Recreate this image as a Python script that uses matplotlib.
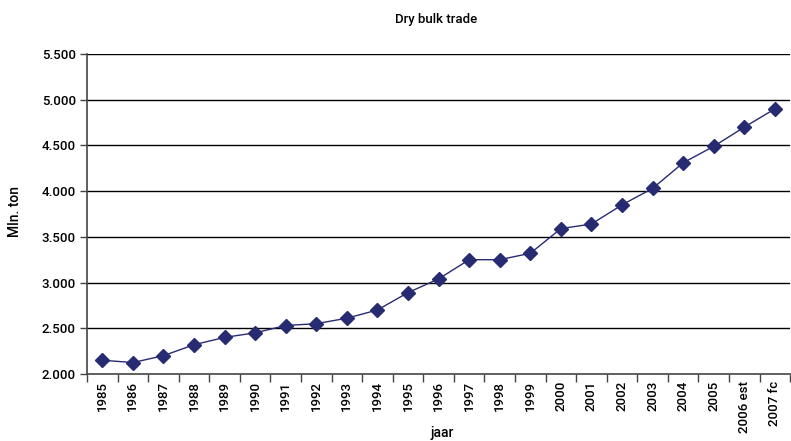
import matplotlib.pyplot as plt
import numpy as np

jaren = ['1985', '1986', '1987', '1988', '1989', '1990', '1991', '1992',
         '1993', '1994', '1995', '1996', '1997', '1998', '1999', '2000',
         '2001', '2002', '2003', '2004', '2005', '2006 est', '2007 fc']
handel = [2150, 2125, 2200, 2320, 2400, 2450, 2530, 2550, 2610, 2700,
          2890, 3040, 3250, 3250, 3320, 3590, 3640, 3850, 4030, 4310,
          4490, 4700, 4900]
y_ticks = [2000, 2500, 3000, 3500, 4000, 4500, 5000, 5500]
y_labels = ['2.000', '2.500', '3.000', '3.500', '4.000', '4.500', '5.000', '5.500']

plt.rcParams['font.family'] = ['Roboto', 'DejaVu Sans']
plt.rcParams['font.weight'] = 'medium'

fig = plt.figure(figsize=(7.91, 4.41), dpi=100)
ax = fig.add_axes([0.110, 0.152, 0.889, 0.7256])

x = np.arange(len(jaren))
ax.plot(x, handel, color='#272b72', linewidth=1.0, marker='D',
        markersize=7.5, zorder=3)

ax.set_xlim(-0.5, len(jaren) - 0.5)
ax.set_ylim(2000, 5500)
ax.set_yticks(y_ticks)
ax.set_yticklabels(y_labels, fontsize=9.5)
for yv in y_ticks[1:]:
    ax.axhline(yv, color='black', linewidth=1.0, zorder=1)

# categorie labels in het midden, streepjes op de grenzen
ax.set_xticks(x)
ax.set_xticklabels(jaren, rotation=90, fontsize=9.5)
ax.tick_params(axis='x', which='major', length=0, pad=5)
ax.set_xticks(np.arange(-0.5, len(jaren)), minor=True)
ax.tick_params(axis='x', which='minor', length=6, width=1, color='#444444')
ax.tick_params(axis='y', length=5, width=1, color='#444444', pad=3)

for kant in ['top', 'right']:
    ax.spines[kant].set_visible(False)
ax.spines['left'].set_color('#444444')
ax.spines['left'].set_linewidth(1.2)
ax.spines['bottom'].set_color('#444444')
ax.spines['bottom'].set_linewidth(1.2)

fig.text(0.551, 0.955, 'Dry bulk trade', ha='center', va='center', fontsize=9.5)
fig.text(0.019, 0.52, 'Mln. ton', rotation=90, ha='center', va='center', fontsize=10)
fig.text(0.559, 0.018, 'jaar', ha='center', va='center', fontsize=10)

fig.savefig('out.png', dpi=100)
